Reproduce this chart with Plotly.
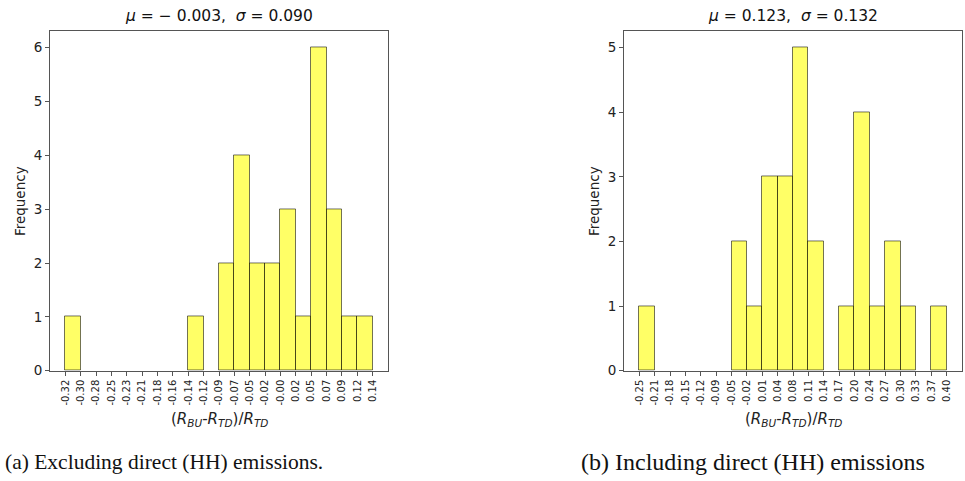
import numpy as np
import plotly.graph_objects as go

# Histogram (a): excluding direct (HH) emissions
left_range = (-0.32, 0.14)
left_counts = [1, 0, 0, 0, 0, 0, 0, 0, 1, 0, 2, 4, 2, 2, 3, 1, 6, 3, 1, 1]
left_ticks = ["-0.32", "-0.30", "-0.28", "-0.25", "-0.23", "-0.21", "-0.18", "-0.16",
              "-0.14", "-0.12", "-0.09", "-0.07", "-0.05", "-0.02", "-0.00", "0.02",
              "0.05", "0.07", "0.09", "0.12", "0.14"]
left_title = "<i>μ</i> = − 0.003,  <i>σ</i> = 0.090"

# Histogram (b): including direct (HH) emissions
right_range = (-0.25, 0.40)
right_counts = [1, 0, 0, 0, 0, 0, 2, 1, 3, 3, 5, 2, 0, 1, 4, 1, 2, 1, 0, 1]
right_ticks = ["-0.25", "-0.21", "-0.18", "-0.15", "-0.12", "-0.09", "-0.05", "-0.02",
               "0.01", "0.04", "0.08", "0.11", "0.14", "0.17", "0.20", "0.24", "0.27",
               "0.30", "0.33", "0.37", "0.40"]
right_title = "<i>μ</i> = 0.123,  <i>σ</i> = 0.132"

captions = ["(a) Excluding direct (HH) emissions.", "(b) Including direct (HH) emissions"]

W, H = 965, 481
FRAME = "#555555"
TXT = "#222222"

# pixel boxes of the two axes (left, right, top, bottom)
boxes = [(50, 388, 32, 377), (624, 962, 32, 377)]

fig = go.Figure()

panels = [
    (left_range, left_counts, left_ticks, left_title),
    (right_range, right_counts, right_ticks, right_title),
]

for i, ((lo, hi), counts, ticks, title) in enumerate(panels):
    n = len(counts)
    edges = np.linspace(lo, hi, n + 1)
    width = edges[1] - edges[0]
    centers = (edges[:-1] + edges[1:]) / 2
    xa = "x" if i == 0 else "x2"
    ya = "y" if i == 0 else "y2"
    # empty bins get no outline
    outline = [1 if c > 0 else 0 for c in counts]
    fig.add_trace(go.Bar(
        x=centers, y=counts, width=width, xaxis=xa, yaxis=ya,
        marker=dict(color="rgba(255,255,0,0.6)",
                    line=dict(color="rgba(0,0,0,0.55)", width=outline)),
        showlegend=False, hoverinfo="x+y",
    ))
    span = hi - lo
    ymax = max(counts) * 1.05
    x0, x1, yt, yb = boxes[i]
    ax_x = dict(
        domain=[x0 / W, x1 / W], range=[lo - 0.05 * span, hi + 0.05 * span],
        tickmode="array", tickvals=list(edges), ticktext=ticks, tickangle=-90,
        ticks="outside", ticklen=4, tickcolor=FRAME, tickwidth=1,
        showline=True, linecolor=FRAME, linewidth=1, mirror=True,
        showgrid=False, zeroline=False,
        tickfont=dict(family="DejaVu Sans", size=10, color=TXT),
        anchor=ya,
    )
    ax_y = dict(
        domain=[1 - yb / H, 1 - yt / H], range=[0, ymax],
        tickmode="linear", tick0=0, dtick=1,
        ticks="outside", ticklen=4, tickcolor=FRAME, tickwidth=1,
        showline=True, linecolor=FRAME, linewidth=1, mirror=True,
        showgrid=False, zeroline=False,
        tickfont=dict(family="DejaVu Sans", size=13.5, color=TXT),
        anchor=xa,
    )
    if i == 0:
        fig.update_layout(xaxis=ax_x, yaxis=ax_y)
    else:
        fig.update_layout(xaxis2=ax_x, yaxis2=ax_y)

    cx = (x0 + x1) / 2
    # panel title
    fig.add_annotation(x=cx / W, y=1 - 16 / H, xref="paper", yref="paper",
                       text=title, showarrow=False, xanchor="center", yanchor="middle",
                       font=dict(family="DejaVu Sans", size=15.5, color="#111111"))
    # x-axis label
    fig.add_annotation(x=cx / W, y=1 - 427 / H, xref="paper", yref="paper",
                       text="(<i>R</i><sub><i>BU</i></sub>-<i>R</i><sub><i>TD</i></sub>)/<i>R</i><sub><i>TD</i></sub>",
                       showarrow=False, xanchor="center", yanchor="middle",
                       font=dict(family="DejaVu Sans", size=15, color=TXT))
    # y-axis label
    fig.add_annotation(x=(x0 - 30) / W, y=1 - ((yt + yb) / 2) / H, xref="paper", yref="paper",
                       text="Frequency", textangle=-90, showarrow=False,
                       xanchor="center", yanchor="middle",
                       font=dict(family="DejaVu Sans", size=13.5, color=TXT))

# sub-figure captions
fig.add_annotation(x=3 / W, y=1 - 470 / H, xref="paper", yref="paper", text=captions[0],
                   showarrow=False, xanchor="left", yanchor="middle",
                   font=dict(family="Liberation Serif", size=21.5, color="#111111"))
fig.add_annotation(x=579 / W, y=1 - 470 / H, xref="paper", yref="paper", text=captions[1],
                   showarrow=False, xanchor="left", yanchor="middle",
                   font=dict(family="Liberation Serif", size=24, color="#111111"))

fig.update_layout(
    width=W, height=H, margin=dict(l=0, r=0, t=0, b=0),
    paper_bgcolor="white", plot_bgcolor="white", bargap=0,
)

fig.write_html("out.html")
